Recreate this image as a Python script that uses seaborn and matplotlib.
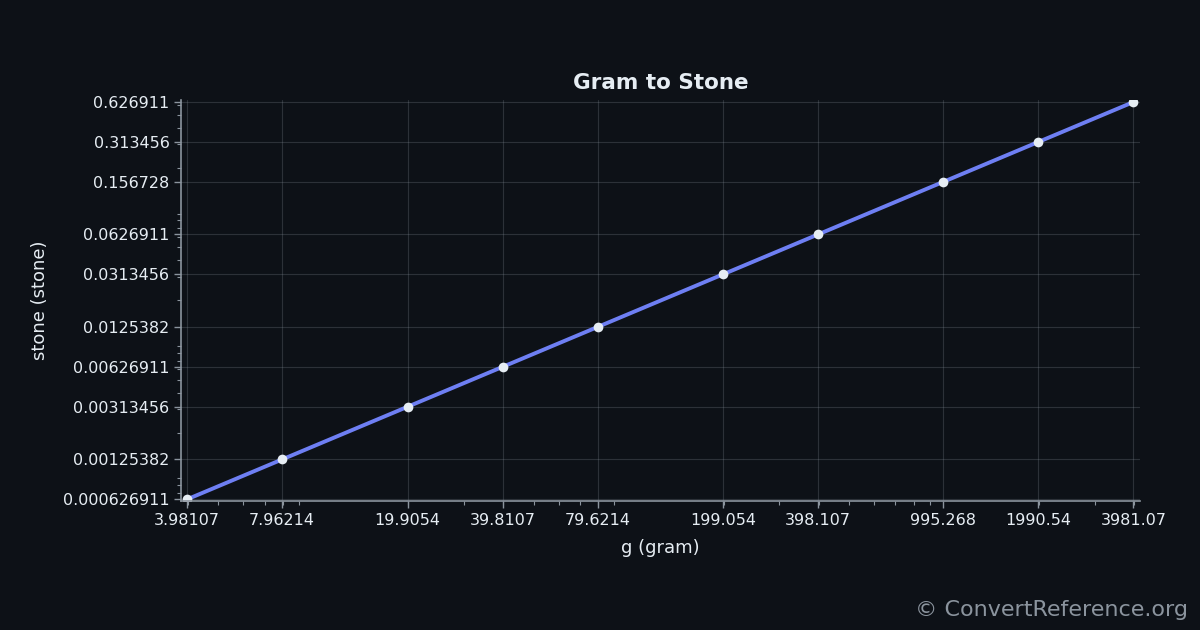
import numpy as np
import pandas as pd
import matplotlib
matplotlib.use("Agg")
import matplotlib.pyplot as plt
import seaborn as sns
from matplotlib.ticker import FixedLocator, FixedFormatter, LogLocator, NullFormatter

# data: gram -> stone
grams = [3.98107, 7.96214, 19.9054, 39.8107, 79.6214, 199.054, 398.107, 995.268, 1990.54, 3981.07]
stones = [0.000626911, 0.00125382, 0.00313456, 0.00626911, 0.0125382,
          0.0313456, 0.0626911, 0.156728, 0.313456, 0.626911]
x_labels = ["3.98107", "7.96214", "19.9054", "39.8107", "79.6214",
            "199.054", "398.107", "995.268", "1990.54", "3981.07"]
y_labels = ["0.000626911", "0.00125382", "0.00313456", "0.00626911", "0.0125382",
            "0.0313456", "0.0626911", "0.156728", "0.313456", "0.626911"]

df = pd.DataFrame({"g": grams, "stone": stones})

bg = "#0d1117"
fg = "#e6edf3"
line_col = "#6e7ff3"

sns.set_theme(style="dark")
plt.rcParams["font.family"] = ["DejaVu Sans"]

fig = plt.figure(figsize=(12, 6.3), dpi=100, facecolor=bg)
ax = fig.add_axes([0.151, 0.205, 0.799, 0.636])
ax.set_facecolor(bg)

sns.lineplot(data=df, x="g", y="stone", ax=ax, color=line_col, linewidth=2.8,
             marker="o", markersize=7, markerfacecolor=fg, markeredgecolor=fg,
             markeredgewidth=0)

ax.set_xscale("log")
ax.set_yscale("log")
ax.set_xlim(3.81, 4180)
ax.set_ylim(0.000610, 0.648)

ax.xaxis.set_major_locator(FixedLocator(grams))
ax.xaxis.set_major_formatter(FixedFormatter(x_labels))
ax.yaxis.set_major_locator(FixedLocator(stones))
ax.yaxis.set_major_formatter(FixedFormatter(y_labels))
ax.xaxis.set_minor_locator(LogLocator(base=10, subs=np.arange(2, 10), numticks=20))
ax.yaxis.set_minor_locator(LogLocator(base=10, subs=np.arange(2, 10), numticks=20))
ax.xaxis.set_minor_formatter(NullFormatter())
ax.yaxis.set_minor_formatter(NullFormatter())

ax.grid(True, which="major", color="#8b949e", alpha=0.25, linewidth=0.8)
ax.grid(False, which="minor")

ax.tick_params(axis="both", which="major", colors="#8b949e", labelcolor=fg,
               labelsize=11.5, length=5, width=1, direction="out", bottom=True, left=True)
ax.tick_params(axis="both", which="minor", colors="#8b949e", length=3, width=0.8,
               bottom=True, left=True)

for side in ["top", "right"]:
    ax.spines[side].set_visible(False)
for side in ["left", "bottom"]:
    ax.spines[side].set_visible(True)
    ax.spines[side].set_color("#8b949e")
    ax.spines[side].set_linewidth(1.2)

ax.set_title("Gram to Stone", color=fg, fontsize=15.5, fontweight="bold", pad=8)
ax.set_xlabel("g (gram)", color=fg, fontsize=13, labelpad=8)
ax.set_ylabel("stone (stone)", color=fg, fontsize=13, labelpad=10)

fig.text(0.99, 0.022, "© ConvertReference.org", color="#8b949e", fontsize=16,
         ha="right", va="baseline")

fig.savefig("out.png", dpi=100, facecolor=bg)
